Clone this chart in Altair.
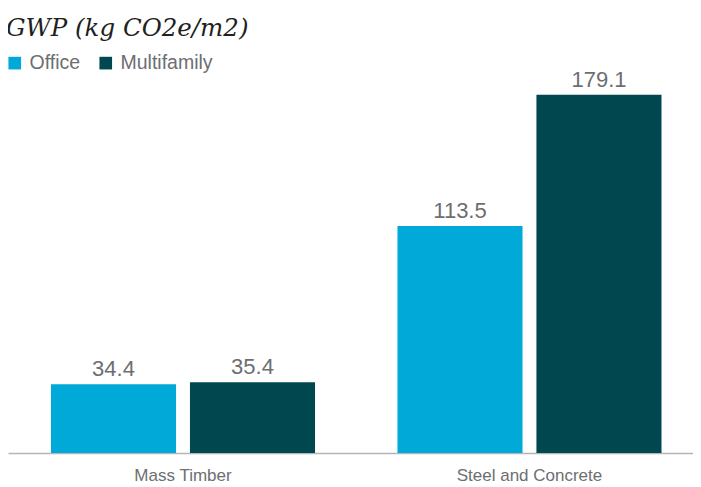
import altair as alt
import pandas as pd

categories = ["Mass Timber", "Mass Timber", "Steel and Concrete", "Steel and Concrete"]
series = ["Office", "Multifamily", "Office", "Multifamily"]
values = [34.4, 35.4, 113.5, 179.1]
labels = ["34.4", "35.4", "113.5", "179.1"]

df = pd.DataFrame({"cat": categories, "series": series, "value": values, "label": labels})

GRAY = "#6d6e71"
FONT = "Liberation Sans, Arial, sans-serif"

x = alt.X("cat:N", title=None, sort=["Mass Timber", "Steel and Concrete"],
          scale=alt.Scale(paddingInner=0.238, paddingOuter=0.1075, align=0.577),
          axis=alt.Axis(labelAngle=0, labelFontSize=17, labelColor=GRAY, labelFont=FONT,
                        ticks=False, domainColor="#b5b5b5", domainWidth=1.5, labelPadding=14))
xo = alt.XOffset("series:N", sort=["Office", "Multifamily"],
                 scale=alt.Scale(paddingInner=0.1, paddingOuter=0))
y = alt.Y("value:Q", scale=alt.Scale(domain=[0, 202.5], nice=False), axis=None)

bars = alt.Chart(df).mark_bar().encode(
    x=x, xOffset=xo, y=y,
    color=alt.Color("series:N", sort=["Office", "Multifamily"],
                    scale=alt.Scale(domain=["Office", "Multifamily"], range=["#00a9d8", "#00474f"]),
                    legend=alt.Legend(title=None, orient="none", legendX=-3, legendY=5,
                                      direction="horizontal", symbolType="square", symbolSize=160,
                                      symbolStrokeWidth=0, labelFontSize=19.5, labelColor=GRAY,
                                      labelFont=FONT, columnPadding=15, labelOffset=5)),
)

text = alt.Chart(df).mark_text(dy=-8, baseline="alphabetic", fontSize=22, color=GRAY, font=FONT).encode(
    x=x, xOffset=xo, y=y, text="label:N")

chart = alt.layer(bars, text).properties(
    width=685, height=405,
    autosize=alt.AutoSizeParams(type="none"),
    padding={"left": 0, "top": 40, "right": 0, "bottom": 30},
    title=alt.TitleParams("GWP (kg CO2e/m2)", anchor="start", font="DejaVu Serif", fontStyle="italic",
                          fontWeight="normal", fontSize=24.5, color="#231f20", offset=7, dx=1),
).configure_view(stroke=None)

chart.save("out.html", embed_options={"renderer": "svg", "actions": False})
